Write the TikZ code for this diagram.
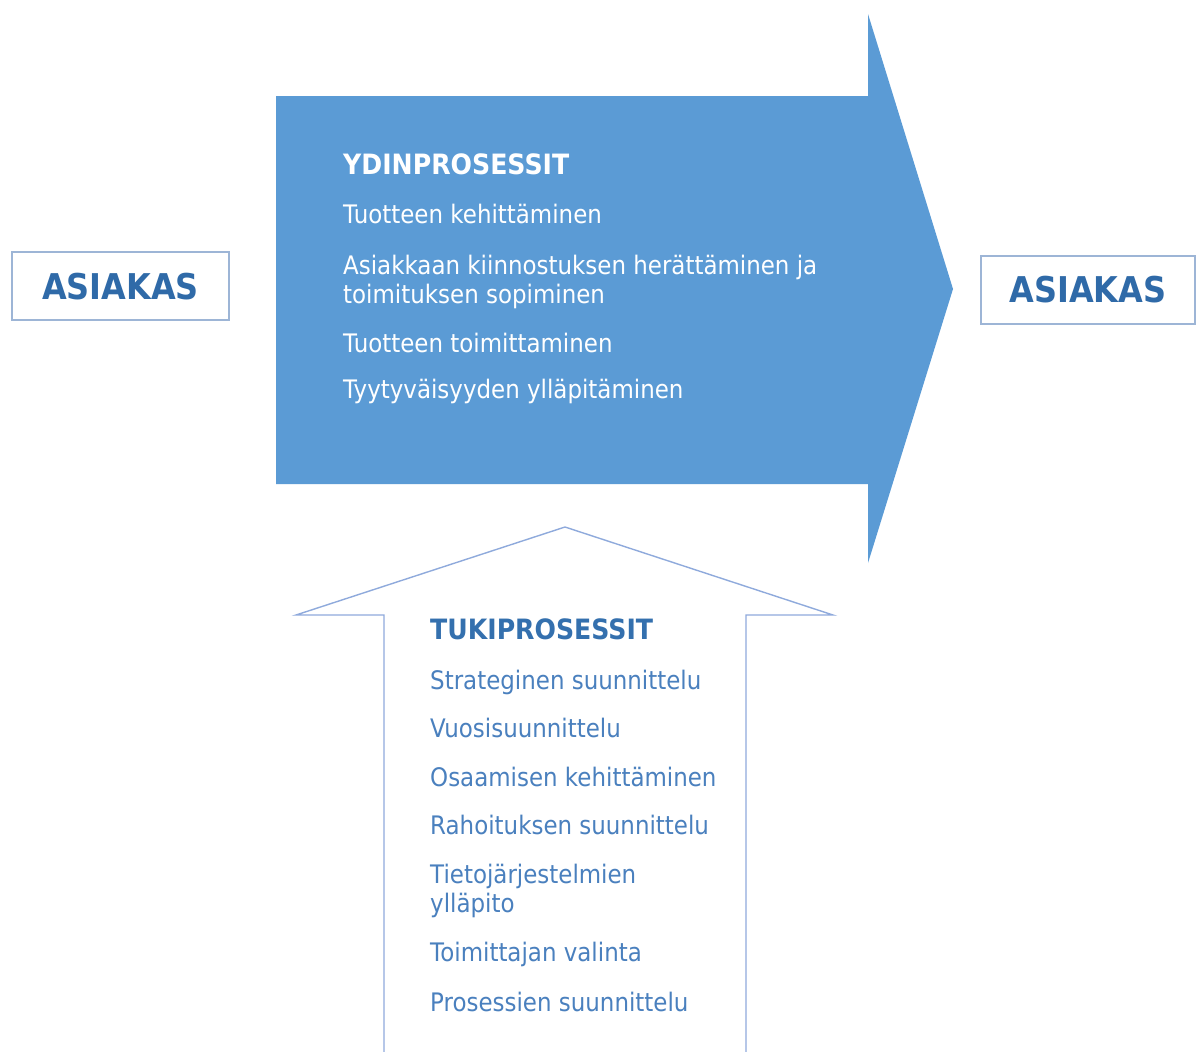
\documentclass[tikz,border=0pt]{standalone}
\usepackage{fontspec}
\setmainfont{DejaVu Sans}[FakeStretch=0.9]
\definecolor{corefill}{HTML}{5B9BD5}
\definecolor{custtext}{HTML}{2F6AA8}
\definecolor{custline}{HTML}{9DB5D6}
\definecolor{supline}{HTML}{8FAADC}
\definecolor{suphead}{HTML}{3470AE}
\definecolor{supitem}{HTML}{4A80BE}
\begin{document}
\begin{tikzpicture}[x=1pt,y=-1pt]
\tikzset{
  custbox/.style={draw=custline, line width=1.6pt, fill=white},
  custlabel/.style={text=custtext, font=\fontsize{35.5}{40}\selectfont\bfseries, inner sep=0},
  corehead/.style={anchor=base west, inner sep=0, text=white, font=\fontsize{28}{32}\selectfont\bfseries},
  coreitem/.style={anchor=base west, inner sep=0, text=white, font=\fontsize{25.5}{29}\selectfont},
  suphead/.style={anchor=base west, inner sep=0, text=suphead, font=\fontsize{28}{32}\selectfont\bfseries},
  supitem/.style={anchor=base west, inner sep=0, text=supitem, font=\fontsize{25.5}{29}\selectfont},
}
\useasboundingbox[fill=white] (0,0) rectangle (1197,1052);

% core process arrow
\fill[corefill] (276,96) -- (868,96) -- (868,14) -- (953,289) -- (868,563)
  -- (868,484) -- (276,484) -- cycle;

% support process arrow (outline, open at the bottom)
\draw[supline, line width=1.4pt, line join=miter]
  (384,1052) -- (384,615) -- (296,615) -- (565,527) -- (833,615)
  -- (746,615) -- (746,1052);

% customer boxes
\draw[custbox] (12,252) rectangle (229,320);
\node[custlabel] (custin) at (120.5,287) {ASIAKAS};
\draw[custbox] (981,256) rectangle (1195,324);
\node[custlabel] (custout) at (1088,290) {ASIAKAS};

% core processes
\node[corehead] (ch) at (343,174) {YDINPROSESSIT};
\node[coreitem] (c1) at (343,223) {Tuotteen kehittäminen};
\node[coreitem] (c2a) at (343,274) {Asiakkaan kiinnostuksen herättäminen ja};
\node[coreitem] (c2b) at (343,303) {toimituksen sopiminen};
\node[coreitem] (c3) at (343,352) {Tuotteen toimittaminen};
\node[coreitem] (c4) at (343,398) {Tyytyväisyyden ylläpitäminen};

% support processes
\node[suphead] (sh) at (430,639) {TUKIPROSESSIT};
\node[supitem] (s1) at (430,689) {Strateginen suunnittelu};
\node[supitem] (s2) at (430,737) {Vuosisuunnittelu};
\node[supitem] (s3) at (430,786) {Osaamisen kehittäminen};
\node[supitem] (s4) at (430,834) {Rahoituksen suunnittelu};
\node[supitem] (s5a) at (430,883) {Tietojärjestelmien};
\node[supitem] (s5b) at (430,912) {ylläpito};
\node[supitem] (s6) at (430,961) {Toimittajan valinta};
\node[supitem] (s7) at (430,1011) {Prosessien suunnittelu};
\end{tikzpicture}
\end{document}
